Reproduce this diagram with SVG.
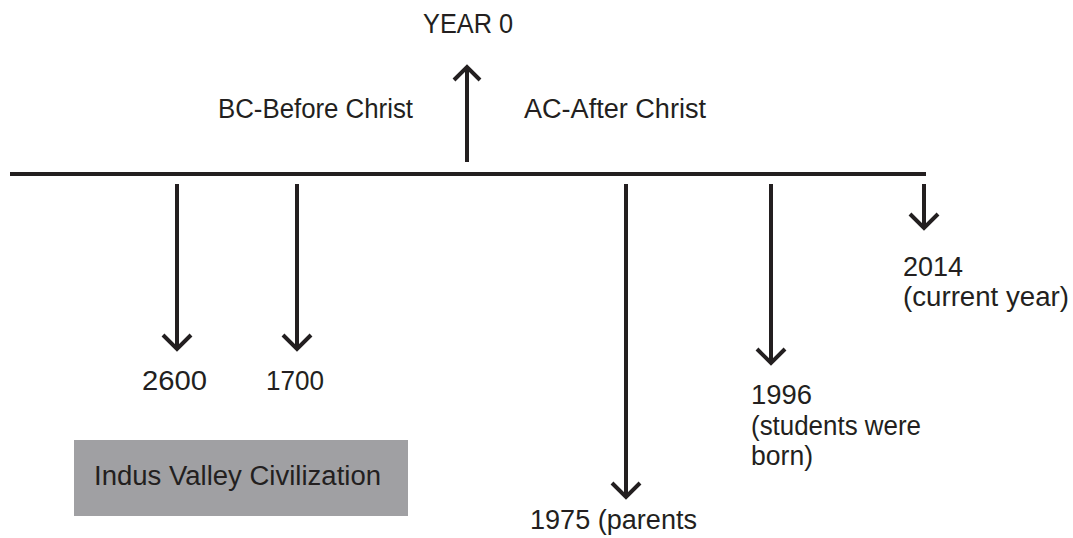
<svg xmlns="http://www.w3.org/2000/svg" width="1073" height="538" viewBox="0 0 1073 538">
<defs>
<style>
text{font-family:"Liberation Sans","Open Sans",sans-serif;font-size:27px;fill:#231f20}
.ln{stroke:#231f20;stroke-width:4;fill:none}
.hd{stroke:#231f20;stroke-width:4;fill:none;stroke-linecap:butt;stroke-linejoin:miter}
</style>
</defs>
<rect width="1073" height="538" fill="#fff"/>
<g id="connectors">
<line class="ln" x1="10" y1="174" x2="926" y2="174"/>
<line class="ln" x1="467" y1="162" x2="467" y2="67"/>
<polyline class="hd" points="454,80 467,67 480,80"/>
<line class="ln" x1="177" y1="184" x2="177" y2="348"/>
<polyline class="hd" points="163,335 177,349 191,335"/>
<line class="ln" x1="297" y1="184" x2="297" y2="348"/>
<polyline class="hd" points="283,335 297,349 311,335"/>
<line class="ln" x1="626" y1="184" x2="626" y2="496"/>
<polyline class="hd" points="612,483 626,497 640,483"/>
<line class="ln" x1="771" y1="184" x2="771" y2="362"/>
<polyline class="hd" points="757,349 771,363 785,349"/>
<line class="ln" x1="924" y1="184" x2="924" y2="227"/>
<polyline class="hd" points="910,214 924,228 938,214"/>
</g>
<g id="year0"><text x="423" y="33" textLength="90" lengthAdjust="spacingAndGlyphs">YEAR 0</text></g>
<g id="bc"><text x="218" y="118" textLength="195" lengthAdjust="spacingAndGlyphs">BC-Before Christ</text></g>
<g id="ac"><text x="524" y="118" textLength="182" lengthAdjust="spacingAndGlyphs">AC-After Christ</text></g>
<g id="y2600"><text x="142" y="390" textLength="65" lengthAdjust="spacingAndGlyphs">2600</text></g>
<g id="y1700"><text x="266" y="390" textLength="58" lengthAdjust="spacingAndGlyphs">1700</text></g>
<g id="y1975"><text x="530" y="529" textLength="167" lengthAdjust="spacingAndGlyphs">1975 (parents</text></g>
<g id="y1996"><text x="751" y="404" textLength="61" lengthAdjust="spacingAndGlyphs">1996</text><text x="751" y="435" textLength="170" lengthAdjust="spacingAndGlyphs">(students were</text><text x="751" y="465" textLength="62" lengthAdjust="spacingAndGlyphs">born)</text></g>
<g id="y2014"><text x="903" y="276" textLength="60" lengthAdjust="spacingAndGlyphs">2014</text><text x="903" y="306" textLength="166" lengthAdjust="spacingAndGlyphs">(current year)</text></g>
<g id="ivc"><rect x="74" y="440" width="334" height="76" fill="#a0a0a3"/><text x="94" y="485" textLength="287" lengthAdjust="spacingAndGlyphs">Indus Valley Civilization</text></g>
</svg>
